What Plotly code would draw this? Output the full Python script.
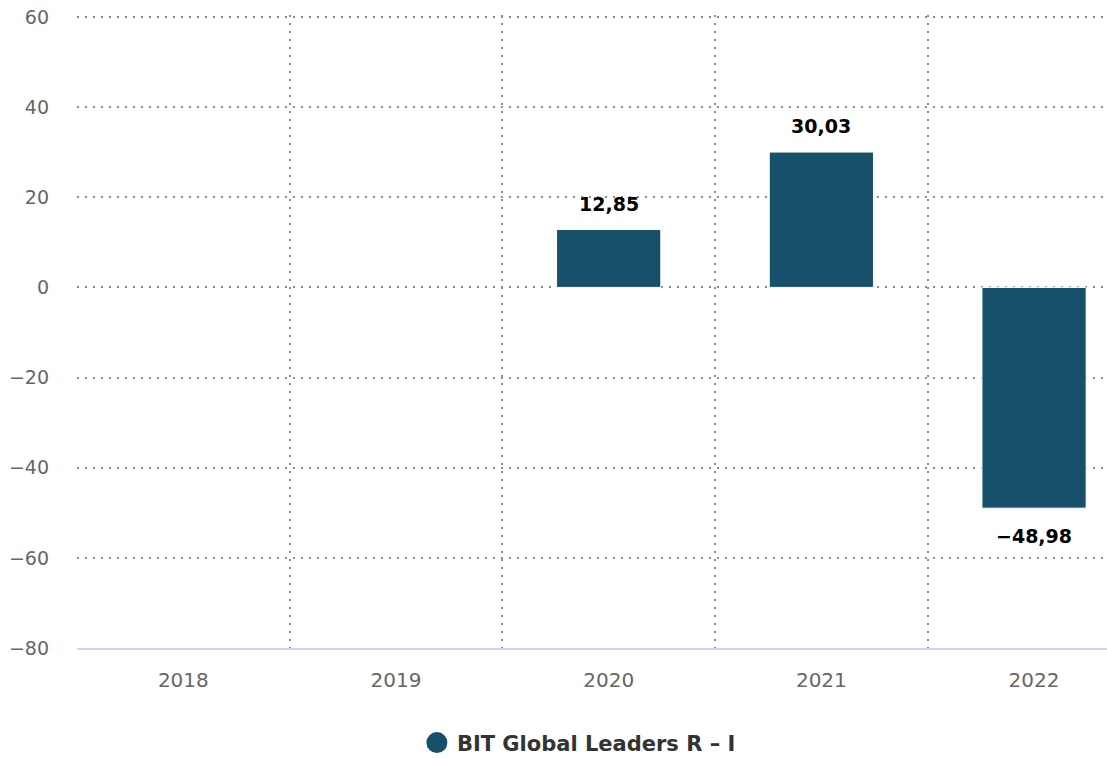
import plotly.graph_objects as go

categories = ["2018", "2019", "2020", "2021", "2022"]
values = [None, None, 12.85, 30.03, -48.98]
labels = ["", "", "12,85", "30,03", "\u221248,98"]
series_name = "BIT Global Leaders R \u2013 I"
y_ticks = [-80, -60, -40, -20, 0, 20, 40, 60]
y_tick_text = ["\u221280", "\u221260", "\u221240", "\u221220", "0", "20", "40", "60"]

BAR = "#17506b"
FONT = "DejaVu Sans"
GRID = "#8c8c8c"

fig = go.Figure()
fig.add_trace(go.Bar(
    x=categories, y=values, name=series_name,
    marker=dict(color=BAR, line=dict(color="#ffffff", width=1)),
    width=0.49, showlegend=False, hoverinfo="skip",
))
# legend entry with circle marker
fig.add_trace(go.Scatter(
    x=[None], y=[None], mode="markers", name=series_name,
    marker=dict(color=BAR, size=16, symbol="circle", line=dict(color=BAR, width=5)),
))

for i, (v, t) in enumerate(zip(values, labels)):
    if v is None:
        continue
    fig.add_annotation(
        x=i, y=v, xref="x", yref="y", text="<b>" + t + "</b>", showarrow=False,
        yshift=26 if v >= 0 else -28,
        font=dict(family=FONT, size=19, color="#000000"),
    )

fig.update_layout(
    width=1107, height=758,
    margin=dict(l=77, r=0, t=15, b=110, autoexpand=False),
    plot_bgcolor="#ffffff", paper_bgcolor="#ffffff",
    font=dict(family=FONT),
    legend=dict(
        orientation="h", x=0.330, xanchor="left", y=-0.15, yanchor="middle",
        font=dict(family=FONT, size=21, color="#333333", weight="bold"),
        itemsizing="trace",
    ),
)
fig.update_xaxes(
    type="category", range=[-0.5, 4.343],
    tickson="boundaries", showgrid=True, gridcolor=GRID, griddash="2px,6px", gridwidth=1.6,
    showline=True, linecolor="#ccd6eb", linewidth=2,
    ticks="", tickfont=dict(family=FONT, size=20, color="#666666"),
    ticklabelstandoff=13, zeroline=False,
)
fig.update_yaxes(
    range=[-80, 60.44], tickvals=y_ticks, ticktext=y_tick_text,
    showgrid=True, gridcolor=GRID, griddash="2px,6px", gridwidth=1.6,
    zeroline=False, showline=False, ticks="",
    tickfont=dict(family=FONT, size=19, color="#666666"),
    ticklabelstandoff=27, ticklabeloverflow="allow",
)

fig.write_html(
    "out.html",
    config={"displayModeBar": False},
    post_script="document.body.style.margin='0';document.body.style.overflow='hidden';",
)
